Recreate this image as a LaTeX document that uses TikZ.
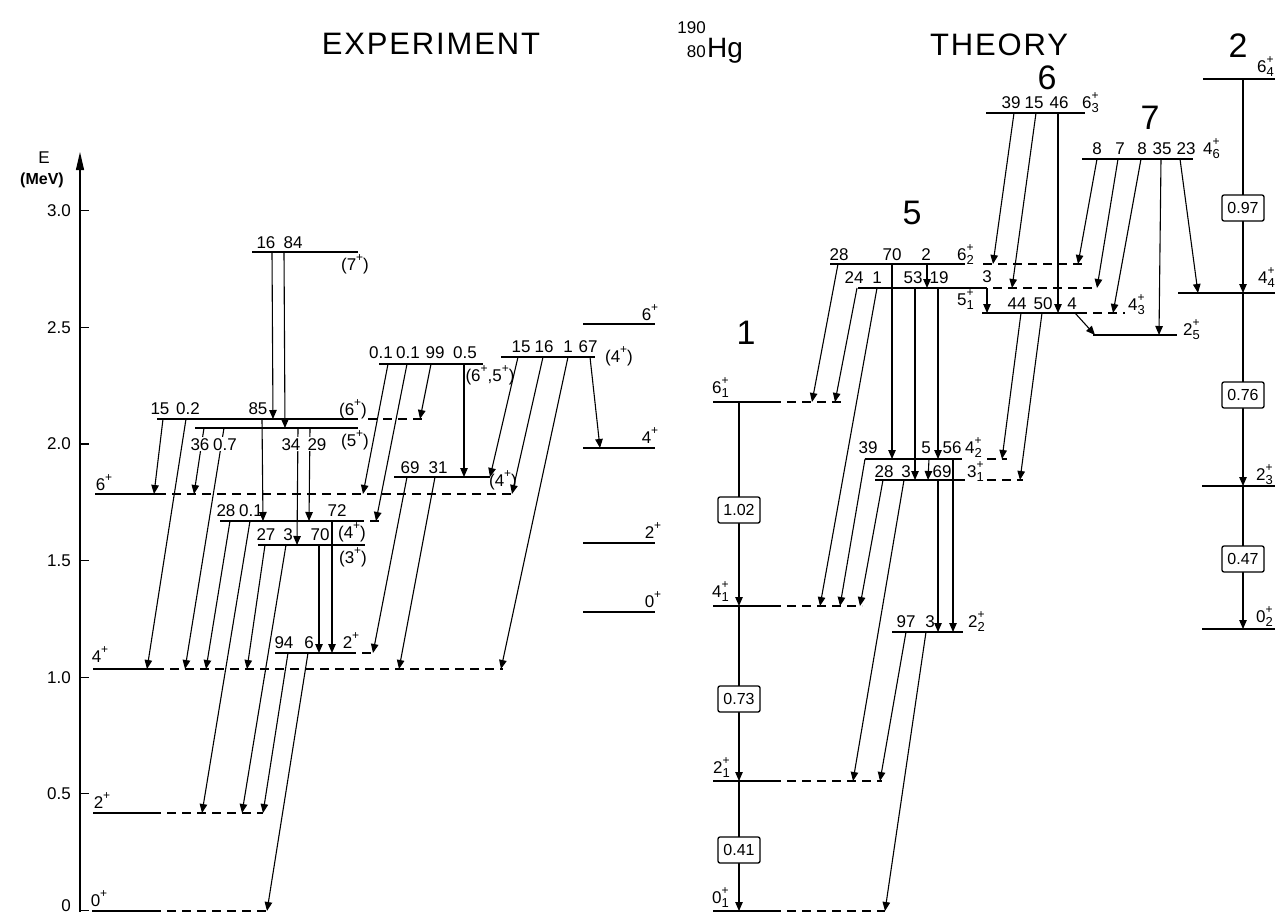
\documentclass[tikz,border=0pt]{standalone}
\usepackage{fontspec}
\setmainfont{Liberation Sans}
\newfontfamily\titlefont[LetterSpace=6]{Liberation Sans}
\usetikzlibrary{arrows.meta}
\newcommand{\Jp}[1]{#1\raisebox{0.95ex}{\fontsize{12}{12}\selectfont +}}
\newcommand{\Jq}[2]{#1\rlap{\raisebox{0.95ex}{\fontsize{12}{12}\selectfont +}}\raisebox{-0.45ex}{\fontsize{13}{13}\selectfont #2}}
\begin{document}
\begin{tikzpicture}[x=1pt,y=-1pt,
  lvl/.style={line width=2.4pt},
  dl/.style={line width=1.5pt,dash pattern=on 9pt off 6pt},
  tr/.style={line width=1.1pt,-{Triangle[length=9pt,width=7.5pt]}},
  lab/.style={inner sep=0pt,anchor=base,font=\fontsize{17}{17}\selectfont},
  labw/.style={lab,fill=white,inner sep=1pt},
  labl/.style={lab,anchor=base west},
  big/.style={inner sep=0pt,font=\fontsize{34}{34}\selectfont},
  ttl/.style={inner sep=0pt,font=\titlefont\fontsize{31}{31}\selectfont},
  bx/.style={draw,line width=1.3pt,rounded corners=2pt,fill=white,minimum width=42pt,minimum height=26pt,inner sep=0pt,font=\fontsize{16}{16}\selectfont},
]
\useasboundingbox (0,0) rectangle (1278,913);

% ---------- titles ----------
\node[ttl] (texp) at (431,44) {EXPERIMENT};
\node[ttl] (tth) at (999,45) {THEORY};
\node[lab,anchor=base east] (hga) at (706,33) {190};
\node[lab,anchor=base east] (hgz) at (706,57) {80};
\node[inner sep=0pt,anchor=base west,font=\fontsize{28}{28}\selectfont] (hg) at (707,57) {Hg};

% ---------- axis ----------
\draw[line width=1.2pt,-{Triangle[length=18pt,width=8pt]}] (80,912) -- (80,152);
\foreach \ee/\tl in {0.5/0.5, 1/1.0, 1.5/1.5, 2/2.0, 2.5/2.5, 3/3.0}{
  \draw[line width=1.2pt] (80,{910.5-233.3*\ee}) -- (89,{910.5-233.3*\ee});
  \node[lab,anchor=east] at (71,{910.5-233.3*\ee}) {\tl};
}
\draw[line width=1.2pt] (80,910.5) -- (89,910.5);
\node[lab,anchor=base east] (zero) at (71,911) {0};
\node[lab,anchor=center] (eax) at (44,158) {E};
\node[lab,anchor=center,font=\fontsize{16}{16}\selectfont\bfseries] (mev) at (42,180) {(MeV)};

% ---------- experiment levels ----------
\draw[lvl] (252,252) -- (358,252);
\draw[lvl] (157,419) -- (358,419); \draw[dl] (368,419) -- (425,419);
\draw[lvl] (195,428) -- (358,428);
\draw[lvl] (379,364) -- (483,364);
\draw[lvl] (501,357) -- (595,357);
\draw[lvl] (583,324) -- (655,324);
\draw[lvl] (583,448) -- (655,448);
\draw[lvl] (583,543) -- (655,543);
\draw[lvl] (583,612) -- (655,612);
\draw[lvl] (95,494) -- (157,494); \draw[dl] (157,494) -- (513,494);
\draw[lvl] (394,477) -- (490,477);
\draw[lvl] (220,521) -- (355,521); \draw[dl] (355,521) -- (380,521);
\draw[lvl] (258,545) -- (365,545);
\draw[lvl] (275,653) -- (347,653); \draw[dl] (347,653) -- (375,653);
\draw[lvl] (93,669) -- (155,669); \draw[dl] (155,669) -- (503,669);
\draw[lvl] (93,813) -- (152,813); \draw[dl] (152,813) -- (263,813);
\draw[lvl] (92,911) -- (152,911); \draw[dl] (152,911) -- (268,911);

% ---------- experiment transitions ----------
\draw[tr] (272,252) -- (273,419);
\draw[tr] (284,252) -- (285,428);
\draw[tr] (163,419) -- (154,494);
\draw[tr] (186,419) -- (147,669);
\draw[tr] (262,419) -- (263,521);
\draw[tr] (204,428) -- (194,494);
\draw[tr] (224,428) -- (185,669);
\draw[tr] (298,428) -- (297,545);
\draw[tr] (310,428) -- (309,521);
\draw[tr] (388,364) -- (363,494);
\draw[tr] (407,364) -- (376,521);
\draw[tr] (431,364) -- (420,419);
\draw[tr] (464,364) -- (464,477);
\draw[tr] (518,357) -- (490,477);
\draw[tr] (543,357) -- (512,494);
\draw[tr] (568,357) -- (501,669);
\draw[tr] (590,357) -- (600,448);
\draw[tr] (407,477) -- (373,653);
\draw[tr] (435,477) -- (399,669);
\draw[tr] (230,521) -- (206,669);
\draw[tr] (250,521) -- (202,813);
\draw[tr] (332,521) -- (332,653);
\draw[tr] (265,545) -- (247,669);
\draw[tr] (286,545) -- (242,813);
\draw[tr] (319,545) -- (319,653);
\draw[tr] (288,653) -- (263,813);
\draw[tr] (308,653) -- (267,911);

% ---------- experiment labels ----------
\node[lab] at (266,248) {16}; \node[lab] at (293,248) {84};
\node[lab] at (355,270) {(\Jp{7})};
\node[lab] at (160,414) {15}; \node[lab] at (188,414) {0.2};
\node[lab] at (258,414) {85}; \node[lab] at (353,415) {(\Jp{6})};
\node[labw] at (200,450) {36}; \node[labw] at (225,450) {0.7};
\node[labw] at (291,450) {34}; \node[labw] at (317,450) {29};
\node[lab] at (355,446) {(\Jp{5})};
\node[lab] at (381,358) {0.1}; \node[lab] at (408,358) {0.1};
\node[lab] at (435,358) {99}; \node[lab] at (465,358) {0.5};
\node[lab] at (490,381) {(\Jp{6},\Jp{5})};
\node[lab] at (521,352) {15}; \node[lab] at (544,352) {16};
\node[lab] at (568,352) {1}; \node[lab] at (588,352) {67};
\node[lab] at (619,362) {(\Jp{4})};
\node[lab] at (650,320) {\Jp{6}}; \node[lab] at (650,443) {\Jp{4}};
\node[lab] at (653,538) {\Jp{2}}; \node[lab] at (653,607) {\Jp{0}};
\node[lab] at (104,490) {\Jp{6}};
\node[lab] at (410,473) {69}; \node[lab] at (438,473) {31};
\node[lab] at (503,486) {(\Jp{4})};
\node[lab] at (226,516) {28}; \node[lab] at (251,516) {0.1}; \node[lab] at (337,516) {72};
\node[lab] at (352,538) {(\Jp{4})};
\node[lab] at (266,540) {27}; \node[lab] at (288,540) {3}; \node[lab] at (320,540) {70};
\node[lab] at (353,563) {(\Jp{3})};
\node[lab] at (284,648) {94}; \node[lab] at (309,648) {6}; \node[lab] at (351,648) {\Jp{2}};
\node[lab] at (100,662) {\Jp{4}};
\node[lab] at (102,808) {\Jp{2}};
\node[lab] at (99,906) {\Jp{0}};

% ---------- theory levels ----------
\draw[lvl] (986,113) -- (1085,113);
\draw[lvl] (1082,159) -- (1193,159);
\draw[lvl] (1203,79) -- (1275,79);
\draw[lvl] (1178,293) -- (1275,293);
\draw[lvl] (1202,486) -- (1275,486);
\draw[lvl] (1202,629) -- (1275,629);
\draw[lvl] (830,264) -- (965,264); \draw[dl] (983,264) -- (1083,264);
\draw[lvl] (858,288) -- (987,288); \draw[dl] (993,288) -- (1097,288);
\draw[lvl] (982,313) -- (1078,313); \draw[dl] (1078,313) -- (1125,313);
\draw[lvl] (1093,335) -- (1177,335);
\draw[lvl] (865,459) -- (962,459); \draw[dl] (987,459) -- (1007,459);
\draw[lvl] (875,480) -- (965,480); \draw[dl] (987,480) -- (1023,480);
\draw[lvl] (892,632) -- (963,632);
\draw[lvl] (713,402) -- (772,402); \draw[dl] (772,402) -- (842,402);
\draw[lvl] (713,606) -- (772,606); \draw[dl] (772,606) -- (862,606);
\draw[lvl] (713,781) -- (772,781); \draw[dl] (772,781) -- (882,781);
\draw[lvl] (713,911) -- (772,911); \draw[dl] (772,911) -- (885,911);

% ---------- theory transitions ----------
\draw[tr] (1014,113) -- (993,264);
\draw[tr] (1036,113) -- (1012,288);
\draw[tr] (1058,113) -- (1058,313);
\draw[tr] (1097,159) -- (1078,264);
\draw[tr] (1118,159) -- (1097,288);
\draw[tr] (1141,159) -- (1113,313);
\draw[tr] (1161,159) -- (1159,335);
\draw[tr] (1180,159) -- (1198,293);
\draw[tr] (838,264) -- (812,402);
\draw[tr] (892,264) -- (892,459);
\draw[tr] (927,264) -- (927,288);
\draw[tr] (857,288) -- (835,402);
\draw[tr] (877,288) -- (820,606);
\draw[tr] (915,288) -- (915,480);
\draw[tr] (938,288) -- (938,459);
\draw[tr] (987,288) -- (987,313);
\draw[tr] (1021,313) -- (1002,459);
\draw[tr] (1042,313) -- (1020,480);
\draw[tr] (1075,313) -- (1095,335);
\draw[tr] (865,459) -- (840,606);
\draw[tr] (929,459) -- (928,480);
\draw[tr] (953,459) -- (953,632);
\draw[tr] (883,480) -- (860,606);
\draw[tr] (904,480) -- (853,781);
\draw[tr] (938,480) -- (938,632);
\draw[tr] (906,632) -- (880,781);
\draw[tr] (926,632) -- (885,911);
\draw[tr] (739,402) -- (739,606);
\draw[tr] (739,606) -- (739,781);
\draw[tr] (739,781) -- (739,911);
\draw[tr] (1243,79) -- (1243,293);
\draw[tr] (1243,293) -- (1243,486);
\draw[tr] (1243,486) -- (1243,629);
\node[bx] (b102) at (739,510) {1.02};
\node[bx] (b073) at (739,699) {0.73};
\node[bx] (b041) at (739,850) {0.41};
\node[bx] (b097) at (1243,208) {0.97};
\node[bx] (b076) at (1243,395) {0.76};
\node[bx] (b047) at (1243,559) {0.47};

% ---------- theory labels ----------
\node[big] (n1) at (746,333) {1};
\node[big] (n5) at (912,213) {5};
\node[big] (n6) at (1047,78) {6};
\node[big] (n7) at (1150,118) {7};
\node[big] (n2) at (1238,46) {2};
\node[lab] at (1011,108) {39}; \node[lab] at (1034,108) {15}; \node[lab] at (1059,108) {46};
\node[labl] at (1082,108) {\Jq{6}{3}};
\node[lab] at (1097,154) {8}; \node[lab] at (1120,154) {7}; \node[lab] at (1142,154) {8};
\node[lab] at (1162,154) {35}; \node[lab] at (1186,154) {23};
\node[labl] at (1203,154) {\Jq{4}{6}};
\node[labl] at (1257,72) {\Jq{6}{4}};
\node[labl] at (1258,283) {\Jq{4}{4}};
\node[labl] at (1256,480) {\Jq{2}{3}};
\node[labl] at (1256,622) {\Jq{0}{2}};
\node[labl] at (1183,335) {\Jq{2}{5}};
\node[labl] at (1128,310) {\Jq{4}{3}};
\node[lab] at (1017,309) {44}; \node[lab] at (1043,309) {50}; \node[lab] at (1072,309) {4};
\node[lab] at (987,282) {3};
\node[lab] at (839,260) {28}; \node[lab] at (892,260) {70}; \node[lab] at (926,260) {2};
\node[labl] at (957,260) {\Jq{6}{2}};
\node[lab] at (854,283) {24}; \node[lab] at (877,283) {1};
\node[lab] at (913,283) {53}; \node[lab] at (939,283) {19};
\node[labl] at (957,305) {\Jq{5}{1}};
\node[lab] at (868,453) {39}; \node[lab] at (926,453) {5}; \node[lab] at (952,453) {56};
\node[labl] at (965,453) {\Jq{4}{2}};
\node[lab] at (884,477) {28}; \node[lab] at (906,477) {3}; \node[lab] at (942,477) {69};
\node[labl] at (967,477) {\Jq{3}{1}};
\node[lab] at (906,627) {97}; \node[lab] at (930,627) {3};
\node[labl] at (968,627) {\Jq{2}{2}};
\node[labl] at (712,393) {\Jq{6}{1}};
\node[labl] at (712,597) {\Jq{4}{1}};
\node[labl] at (713,773) {\Jq{2}{1}};
\node[labl] at (712,903) {\Jq{0}{1}};
\end{tikzpicture}
\end{document}
